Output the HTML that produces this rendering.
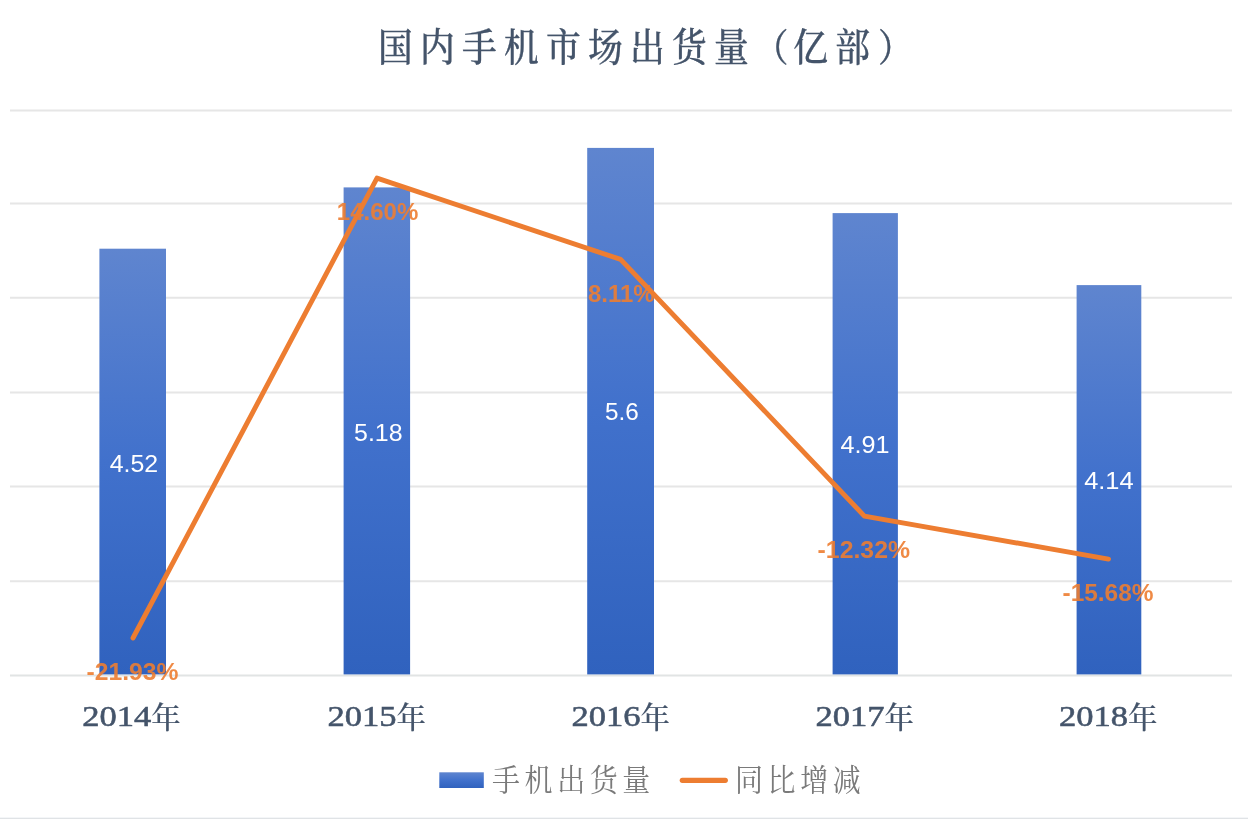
<!DOCTYPE html>
<html lang="zh-CN">
<head>
<meta charset="utf-8">
<title>国内手机市场出货量（亿部）</title>
<style>
  html, body { margin: 0; padding: 0; background: #ffffff; }
  body { width: 1248px; height: 819px; overflow: hidden; }
  svg { display: block; }
  .kai { font-family: "Liberation Serif", "Noto Serif CJK SC", serif; }
  .sans { font-family: "Liberation Sans", "Noto Sans CJK SC", sans-serif; }
  .title { font-size: 37px; fill: #44546a; font-weight: 500; stroke: #44546a; stroke-width: 0.3px; }
  .axis { font-size: 30px; fill: #44546a; font-weight: 400; stroke: #44546a; stroke-width: 0.55px; }
  .axis .nian { font-size: 29.5px; font-weight: 500; stroke-width: 0.15px; }
  .val { font-size: 24px; fill: #ffffff; }
  .pct { font-size: 24.5px; fill: #ed7d31; font-weight: 700; fill-opacity: 0.9; }
  .leg { font-size: 28px; fill: #7a7a7a; font-weight: 400; }
</style>
</head>
<body>
<svg width="1248" height="819" viewBox="0 0 1248 819">
  <defs>
    <linearGradient id="barGrad" x1="0" y1="0" x2="0" y2="1">
      <stop offset="0" stop-color="#5f85cf"/>
      <stop offset="0.5" stop-color="#4171cc"/>
      <stop offset="1" stop-color="#3062be"/>
    </linearGradient>
    <linearGradient id="legGrad" x1="0" y1="0" x2="0" y2="1">
      <stop offset="0" stop-color="#5f85cf"/>
      <stop offset="0.5" stop-color="#4171cc"/>
      <stop offset="1" stop-color="#3062be"/>
    </linearGradient>
  </defs>
  <rect x="0" y="0" width="1248" height="819" fill="#ffffff"/>

  <!-- gridlines -->
  <g stroke="#e6e6e6" stroke-width="2">
    <line x1="10" y1="110.6" x2="1232" y2="110.6"/>
    <line x1="10" y1="203.4" x2="1232" y2="203.4"/>
    <line x1="10" y1="297.7" x2="1232" y2="297.7"/>
    <line x1="10" y1="392.5" x2="1232" y2="392.5"/>
    <line x1="10" y1="486.6" x2="1232" y2="486.6"/>
    <line x1="10" y1="581.3" x2="1232" y2="581.3"/>
  </g>
  <line x1="10" y1="675.5" x2="1232" y2="675.5" stroke="#e1e4e4" stroke-width="1.8"/>

  <!-- bars -->
  <g fill="url(#barGrad)">
    <rect x="99.4" y="248.7" width="66.6" height="425.7"/>
    <rect x="343.6" y="187.4" width="66.5" height="487"/>
    <rect x="587.2" y="147.9" width="66.8" height="526.5"/>
    <rect x="832.6" y="213.1" width="65.3" height="461.3"/>
    <rect x="1076.6" y="285.1" width="64.7" height="389.3"/>
  </g>

  <!-- bar values -->
  <g class="sans val" text-anchor="middle">
    <text x="133.9" y="472" textLength="48.5" lengthAdjust="spacingAndGlyphs">4.52</text>
    <text x="378.3" y="440.7" textLength="48.5" lengthAdjust="spacingAndGlyphs">5.18</text>
    <text x="621.8" y="420.3" textLength="33.8" lengthAdjust="spacingAndGlyphs">5.6</text>
    <text x="865" y="452.8" textLength="49" lengthAdjust="spacingAndGlyphs">4.91</text>
    <text x="1108.9" y="488.8" textLength="49.5" lengthAdjust="spacingAndGlyphs">4.14</text>
  </g>

  <!-- line -->
  <polyline points="133,638 377,178.1 620.6,259.4 864.4,516.1 1108.5,559.1" fill="none" stroke="#ed7d31" stroke-width="4.9" stroke-linejoin="round" stroke-linecap="round"/>

  <!-- percent labels -->
  <g class="sans pct" text-anchor="middle">
    <text x="132.5" y="679.5" textLength="92" lengthAdjust="spacingAndGlyphs">-21.93%</text>
    <text x="377.6" y="220" textLength="81.5" lengthAdjust="spacingAndGlyphs">14.60%</text>
    <text x="621.3" y="302.3" textLength="66.5" lengthAdjust="spacingAndGlyphs">8.11%</text>
    <text x="863.8" y="558.3" textLength="92.5" lengthAdjust="spacingAndGlyphs">-12.32%</text>
    <text x="1108" y="600.8" textLength="91" lengthAdjust="spacingAndGlyphs">-15.68%</text>
  </g>

  <!-- title -->
  <text class="kai title" transform="translate(646.6 46.5) scale(0.94 1.03) translate(0 -46.5)" x="0" y="60.8" text-anchor="middle" letter-spacing="7.7"><tspan dx="2.6">国内手机市场出货量</tspan><tspan dx="-2.6">（</tspan><tspan dx="-2.6">亿部</tspan><tspan dx="0.8">）</tspan></text>

  <!-- category labels -->
  <g class="kai axis">
    <text x="82.3" y="726"><tspan textLength="69" lengthAdjust="spacingAndGlyphs">2014</tspan><tspan class="nian" dy="1.6">年</tspan></text>
    <text x="327.5" y="726"><tspan textLength="69" lengthAdjust="spacingAndGlyphs">2015</tspan><tspan class="nian" dy="1.6">年</tspan></text>
    <text x="571.5" y="726"><tspan textLength="69" lengthAdjust="spacingAndGlyphs">2016</tspan><tspan class="nian" dy="1.6">年</tspan></text>
    <text x="815.5" y="726"><tspan textLength="69" lengthAdjust="spacingAndGlyphs">2017</tspan><tspan class="nian" dy="1.6">年</tspan></text>
    <text x="1059" y="726"><tspan textLength="69" lengthAdjust="spacingAndGlyphs">2018</tspan><tspan class="nian" dy="1.6">年</tspan></text>
  </g>

  <!-- legend -->
  <rect x="439.3" y="772.3" width="44.5" height="15.7" fill="url(#legGrad)"/>
  <text class="kai leg" transform="translate(0 780) scale(1 1.09) translate(0 -780)" x="492" y="790" letter-spacing="4.6">手机出货量</text>
  <line x1="682.3" y1="780.3" x2="725.3" y2="780.3" stroke="#ed7d31" stroke-width="5.2" stroke-linecap="round"/>
  <text class="kai leg" transform="translate(0 780) scale(1 1.09) translate(0 -780)" x="735" y="790" letter-spacing="4.6">同比增减</text>

  <!-- bottom edge -->
  <rect x="0" y="817" width="1248" height="1" fill="#f4f6f8"/>
  <rect x="0" y="818" width="1248" height="1" fill="#e0e3e6"/>
</svg>
</body>
</html>
